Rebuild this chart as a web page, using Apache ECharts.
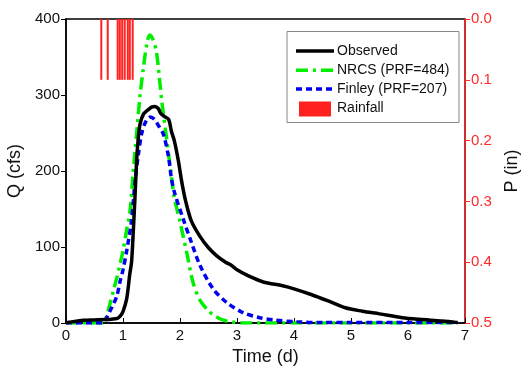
<!DOCTYPE html>
<html>
<head>
<meta charset="utf-8">
<script src="https://cdn.jsdelivr.net/npm/echarts@6/dist/echarts.min.js"></script>
<style>html,body{margin:0;padding:0;background:#fff;}#c{width:522px;height:373px;}</style>
</head>
<body>
<div id="c"></div>
<script>
// Observed hydrograph
const obsT = [0,0.1,0.2,0.3,0.5,0.7,0.8,0.9,0.95,1.0,1.065,1.12,1.15,1.18,1.21,1.24,1.27,1.3,1.36,1.45,1.5,1.56,1.62,1.66,1.72,1.8,1.85,1.9,1.97,2.03,2.1,2.2,2.35,2.5,2.65,2.8,2.9,3.0,3.2,3.46,3.8,4.0,4.3,4.6,4.9,5.2,5.5,5.9,6.2,6.6,6.87];
const obsQ = [0.5,1.5,2.5,3.5,4,4.5,5,6,9,15,32,65,80,120,165,215,245,262,275,281,284,285,282,276,272,268,252,240,214,186,160,134,114,99,88,80,76,70,62,54,49,45,37.5,29,20,15.5,12,7,4.8,2.6,0.5];
// NRCS (PRF=484)
const nrcsT = [0,0.6,0.65,0.7,0.77,0.83,0.9,0.95,1.0,1.07,1.12,1.18,1.24,1.3,1.36,1.42,1.47,1.52,1.59,1.68,1.77,1.85,1.9,2.0,2.12,2.23,2.35,2.5,2.6,2.75,2.9,3.1,4,5,6,6.87];
const nrcsQ = [0,0,0,6,25,42,62,78,95,125,145,200,250,300,337,368,379,374,355,292,240,192,165,133,92,53,30,16,10,4,1.5,0,0,0,0,0];
// Finley (PRF=207)
const finT = [0,0.6,0.65,0.72,0.8,0.89,0.95,1.0,1.065,1.15,1.21,1.27,1.33,1.4,1.48,1.55,1.62,1.71,1.8,1.85,1.91,2.06,2.2,2.35,2.58,2.82,3.11,3.4,3.64,4.05,4.5,5,6,6.87];
const finQ = [0,0,0,8,20,35,55,70,95,135,185,222,250,265,271,268,260,248,218,190,170,136,106,76,45,27,13.5,7,4,1.5,0.5,0.5,0.5,0.5];
// Rainfall (in)
const rainT = [0.619,0.732,0.907,0.944,0.986,1.030,1.084,1.119,1.170];
const rainP = [0.1,0.1,0.1,0.1,0.1,0.1,0.1,0.1,0.1];
const legendNames = ['Observed','NRCS (PRF=484)','Finley (PRF=207)','Rainfall'];

const pairs = (a,b) => a.map((v,i)=>[v,b[i]]);
const FONT = 'Liberation Sans, Arial, sans-serif';
const RED = '#ff2a2a';
const chart = echarts.init(document.getElementById('c'));

const lg = [];
lg.push({type:'rect',shape:{x:287,y:31.5,width:172,height:91},style:{fill:'#fff',stroke:'#888',lineWidth:1},z:50});
const lineStyles = [
  {stroke:'#000',lineDash:null},
  {stroke:'#00ee00',lineDash:[12,5,3,5]},
  {stroke:'#0000ee',lineDash:[6,4]}
];
const ly = [51,70.3,89];
for (let i=0;i<3;i++){
  lg.push({type:'line',shape:{x1:296,y1:ly[i],x2:334,y2:ly[i]},style:{stroke:lineStyles[i].stroke,lineWidth:3.5,lineDash:lineStyles[i].lineDash},z:51});
  lg.push({type:'text',x:337,y:ly[i],style:{text:legendNames[i],fill:'#111',font:'14px '+FONT,textVerticalAlign:'middle',verticalAlign:'middle'},z:51});
}
lg.push({type:'rect',shape:{x:299,y:101.5,width:32,height:15},style:{fill:'#ff2020'},z:51});
lg.push({type:'text',x:337,y:108.5,style:{text:legendNames[3],fill:'#111',font:'14px '+FONT,verticalAlign:'middle',textVerticalAlign:'middle'},z:51});

chart.setOption({
  animation:false,
  backgroundColor:'#fff',
  textStyle:{fontFamily:FONT},
  grid:{left:66,right:57,top:19,bottom:50,show:true,borderColor:'#000',borderWidth:1.5,containLabel:false,outerBoundsMode:'none'},
  graphic:lg,
  xAxis:{
    type:'value', min:0, max:7, interval:1,
    name:'Time (d)', nameLocation:'middle', nameGap:24,
    nameTextStyle:{fontSize:18,color:'#111'},
    axisLine:{lineStyle:{color:'#000',width:1.5}},
    axisTick:{inside:true,length:5,lineStyle:{color:'#000'}},
    axisLabel:{fontSize:15,color:'#111',margin:5},
    splitLine:{show:false}
  },
  yAxis:[{
    type:'value', min:0, max:400, interval:100,
    name:'Q (cfs)', nameLocation:'middle', nameGap:36,
    nameTextStyle:{fontSize:18,color:'#111'},
    axisLine:{show:true,lineStyle:{color:'#000',width:1.5}},
    axisTick:{show:true,length:5,lineStyle:{color:'#000'}},
    axisLabel:{fontSize:15,color:'#111',margin:6},
    splitLine:{show:false}
  },{
    type:'value', min:0, max:0.5, interval:0.1, inverse:true, position:'right',
    name:'P (in)', nameLocation:'middle', nameGap:37, nameRotate:90,
    nameTextStyle:{fontSize:18,color:'#111'},
    axisLine:{show:true,lineStyle:{color:RED,width:1.5}},
    axisTick:{show:true,length:5,lineStyle:{color:RED}},
    axisLabel:{fontSize:15,color:RED,margin:6,formatter:v=>v.toFixed(1)},
    splitLine:{show:false}
  }],
  series:[
    {name:'Rainfall',type:'bar',yAxisIndex:1,barWidth:2,data:pairs(rainT,rainP),itemStyle:{color:'#ff2020'}},
    {name:'NRCS (PRF=484)',type:'line',symbol:'none',smooth:0.3,data:pairs(nrcsT,nrcsQ),
      lineStyle:{color:'#00ee00',width:3.5,type:[12,5,3,5]}},
    {name:'Finley (PRF=207)',type:'line',symbol:'none',smooth:0.3,data:pairs(finT,finQ),
      lineStyle:{color:'#0000ee',width:3.5,type:[6,4]}},
    {name:'Observed',type:'line',symbol:'none',smooth:0.3,data:pairs(obsT,obsQ),z:5,
      lineStyle:{color:'#000',width:3.5}}
  ]
});
</script>
</body>
</html>
